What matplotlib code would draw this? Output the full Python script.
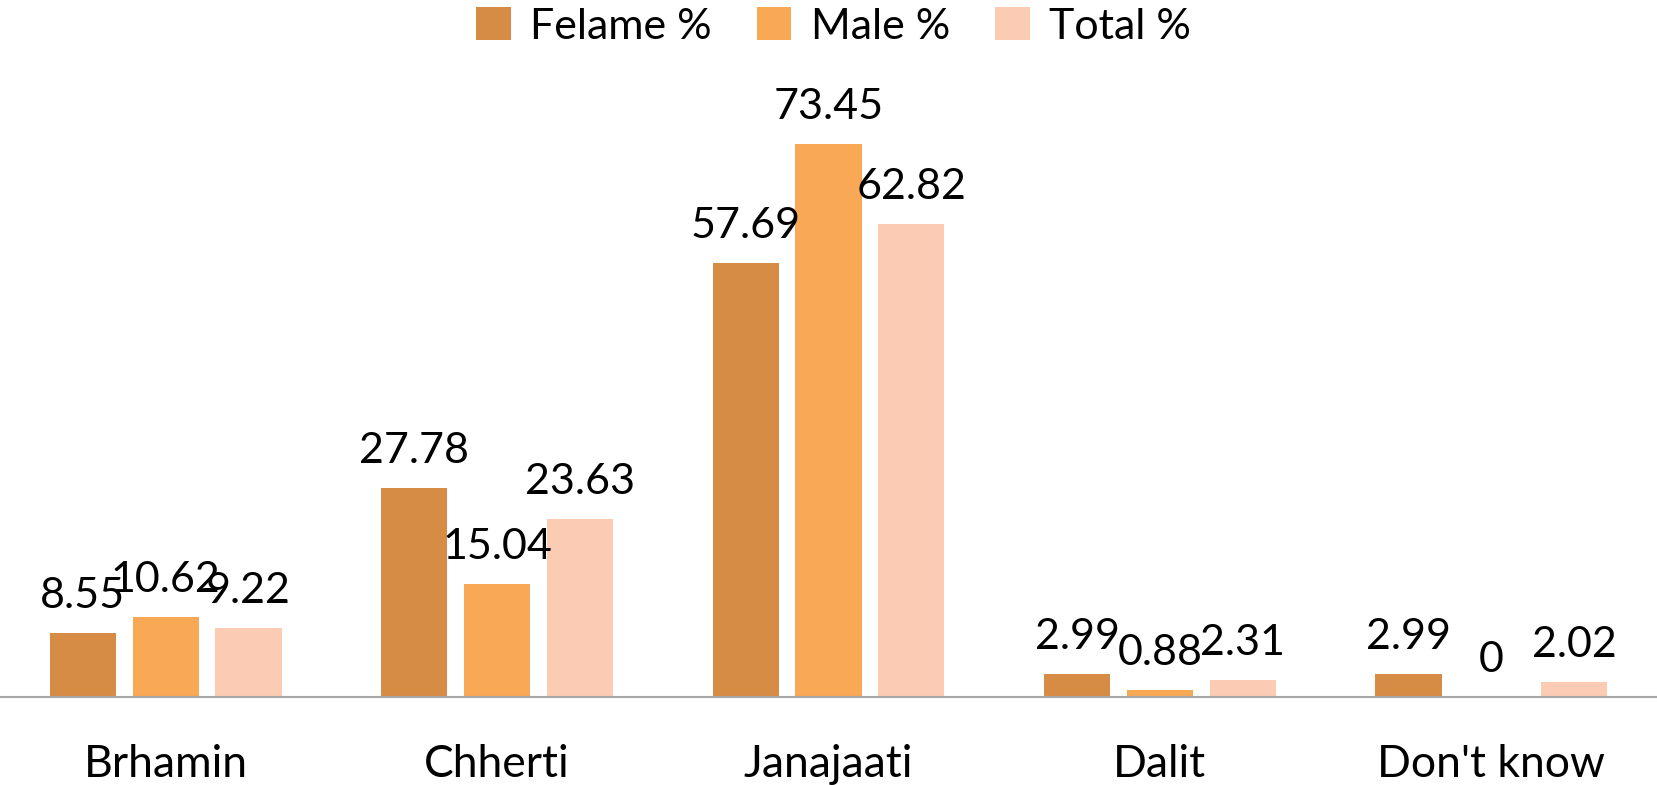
import matplotlib
matplotlib.use("Agg")
import matplotlib.pyplot as plt
import numpy as np

plt.rcParams['font.family'] = ['Lato', 'DejaVu Sans']

categories = ["Brhamin", "Chherti", "Janajaati", "Dalit", "Don't know"]
series_names = ["Felame %", "Male %", "Total %"]
felame = [8.55, 27.78, 57.69, 2.99, 2.99]
male = [10.62, 15.04, 73.45, 0.88, 0]
total = [9.22, 23.63, 62.82, 2.31, 2.02]
colors = ["#D78C46", "#F9A856", "#FBCCB3"]

fig = plt.figure(figsize=(16.57, 7.85), dpi=100)
ax = fig.add_axes([0.0, 0.1121, 1.0, 0.767])

x = np.arange(len(categories))
width = 0.2
offsets = [-0.25, 0.0, 0.25]
for vals, off, col, name in zip([felame, male, total], offsets, colors, series_names):
    bars = ax.bar(x + off, vals, width, color=col, label=name, edgecolor='none')
    for b, v in zip(bars, vals):
        ax.annotate(f"{v:g}", (b.get_x() + b.get_width() / 2, b.get_height()),
                    xytext=(0, 13), textcoords='offset points',
                    ha='center', va='bottom', fontsize=31)

ax.set_xlim(-0.5, 4.5)
ax.set_ylim(0, 80)
ax.set_xticks(x)
ax.set_xticklabels(categories, fontsize=32)
ax.tick_params(axis='x', length=0, pad=34)
ax.set_yticks([])
for s in ['top', 'right', 'left']:
    ax.spines[s].set_visible(False)
ax.spines['bottom'].set_color('#A6A6A6')
ax.spines['bottom'].set_linewidth(1.5)

fig.legend(loc='upper center', bbox_to_anchor=(0.503, 1.04), ncol=3, frameon=False,
           fontsize=31, handlelength=0.8, handleheight=0.8, columnspacing=1.05,
           handletextpad=0.45)

fig.savefig("out.png", dpi=100)
